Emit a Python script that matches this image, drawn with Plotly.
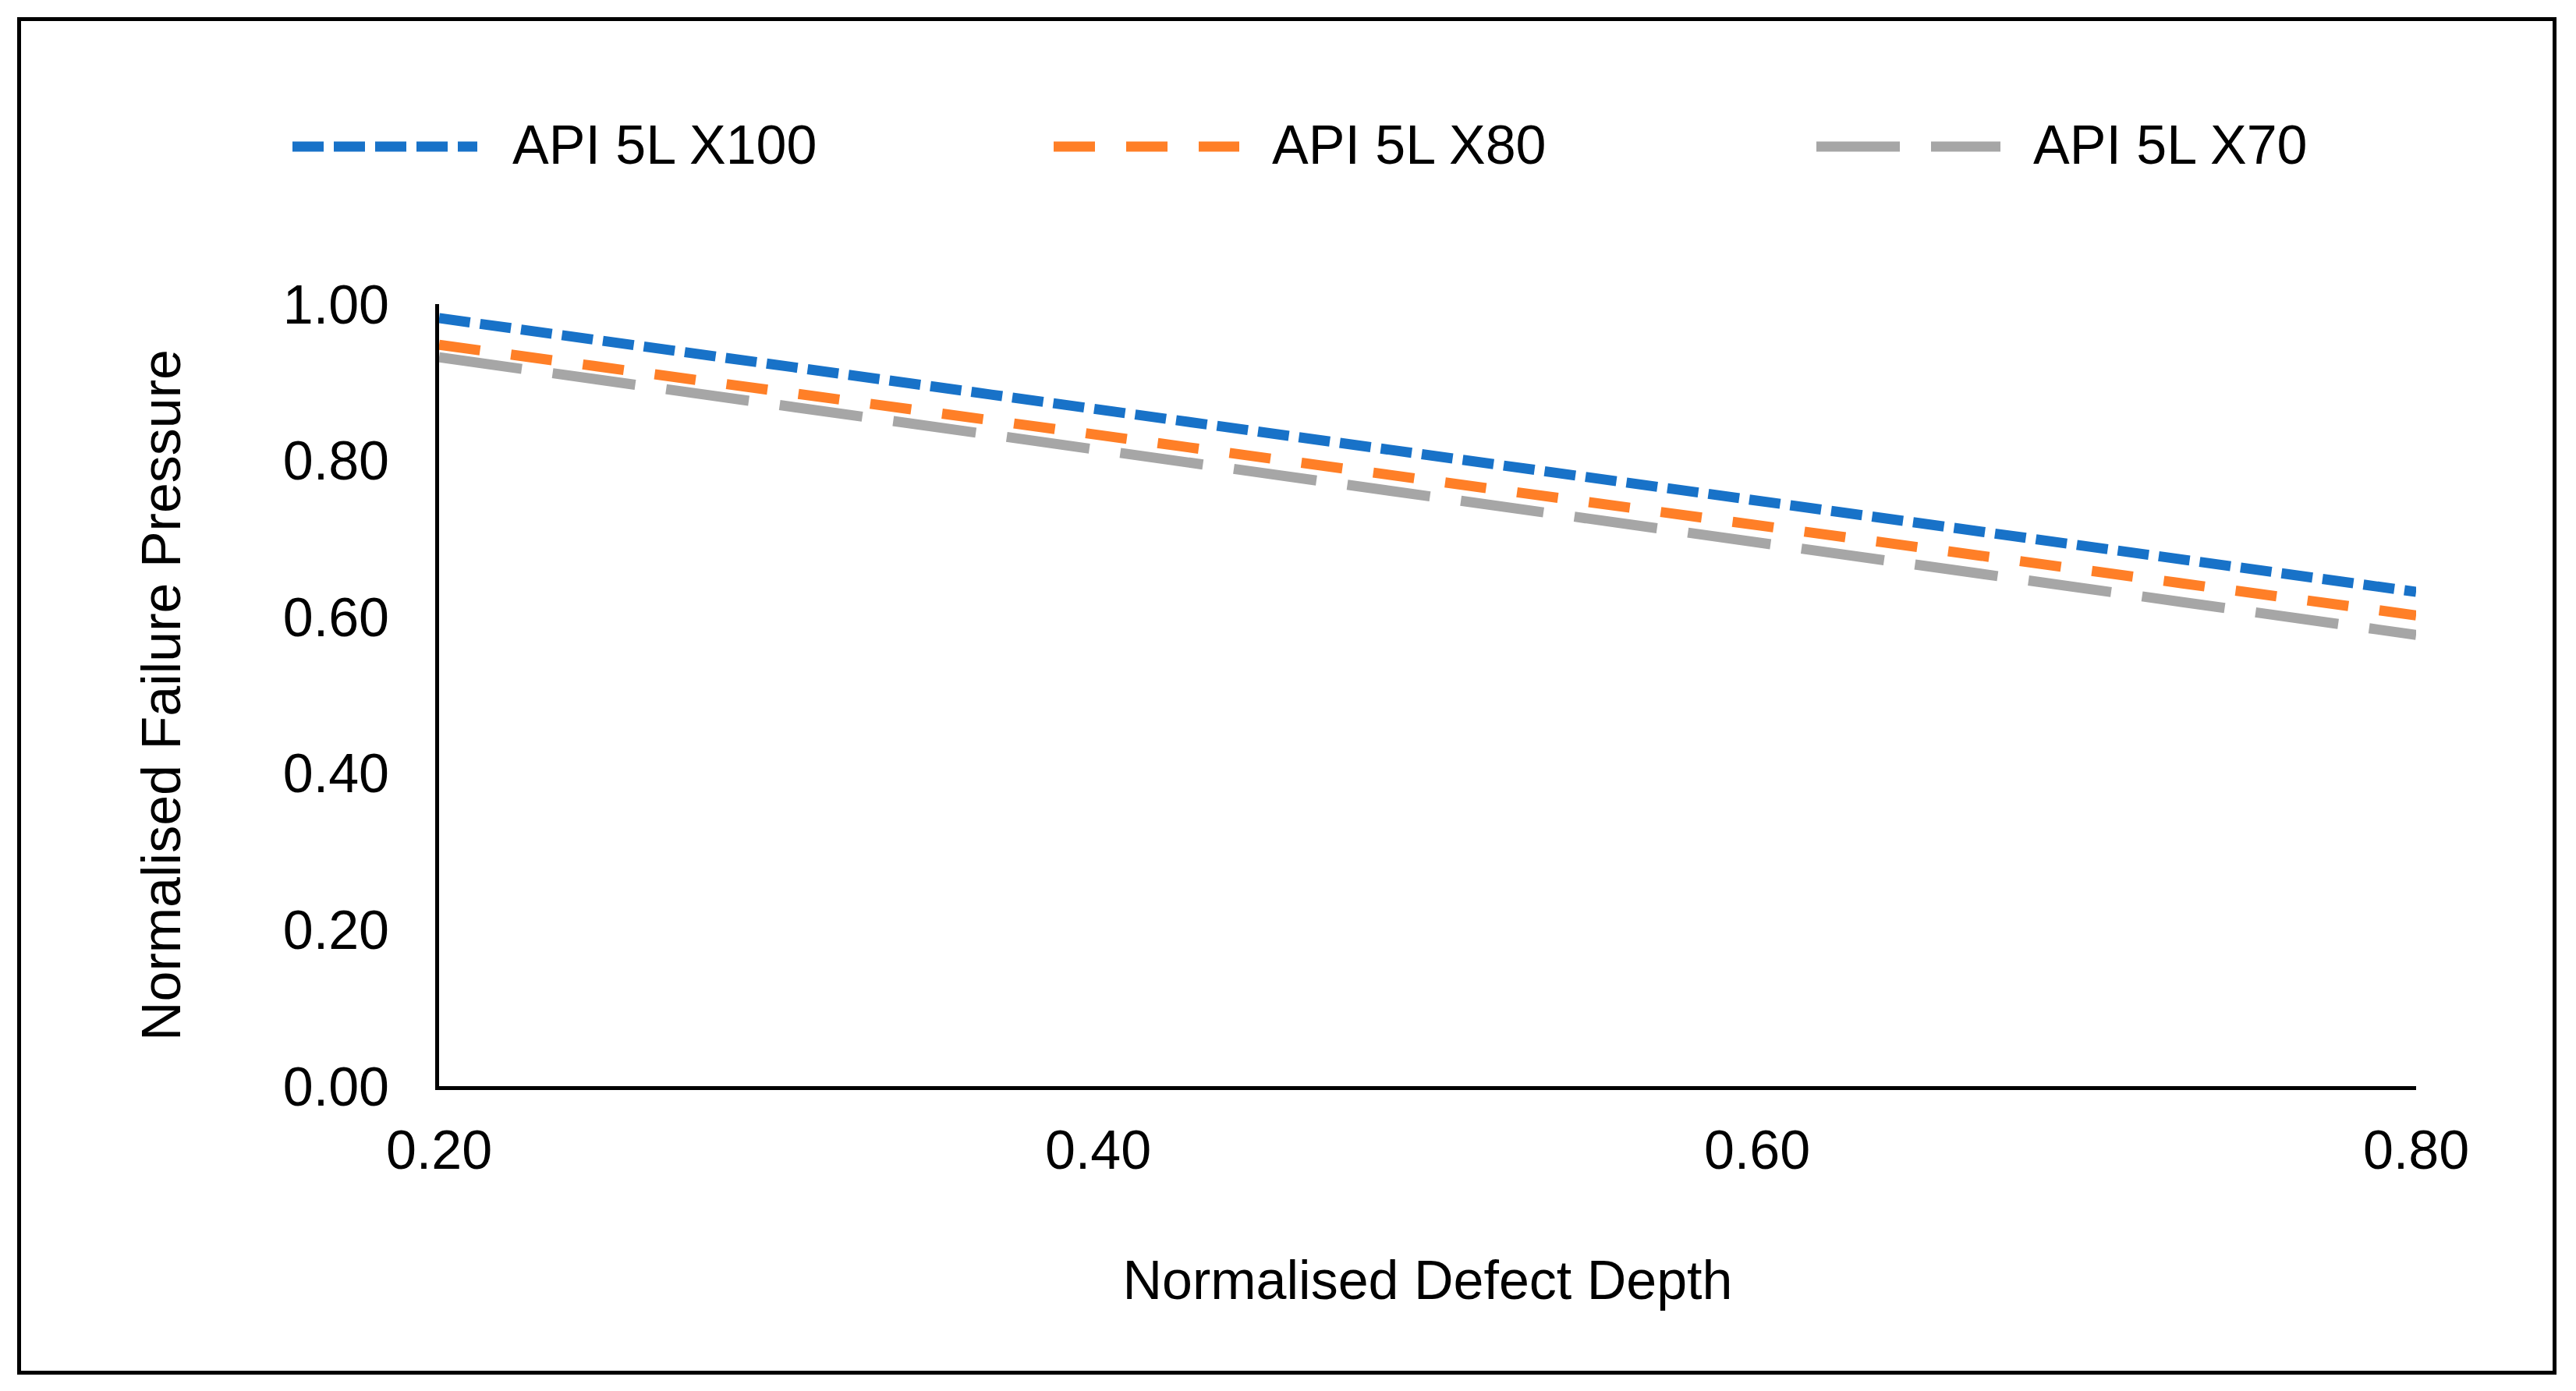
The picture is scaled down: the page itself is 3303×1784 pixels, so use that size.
import plotly.graph_objects as go

# ---- data ----
defect_depth = [0.2, 0.3, 0.4, 0.5, 0.6, 0.7, 0.8]
x100 = [0.982, 0.924, 0.865, 0.807, 0.749, 0.690, 0.632]
x80 = [0.948, 0.890, 0.833, 0.775, 0.717, 0.660, 0.602]
x70 = [0.932, 0.873, 0.814, 0.755, 0.695, 0.636, 0.577]
series_names = ["API 5L X100", "API 5L X80", "API 5L X70"]
x_ticks = [0.2, 0.4, 0.6, 0.8]
y_ticks = [0.0, 0.2, 0.4, 0.6, 0.8, 1.0]

colors = ["#1872C8", "#FF7F27", "#A6A6A6"]
dashes = ["40px,13px", "53px,40px", "107px,40px"]
FONT = "Arial, Liberation Sans, sans-serif"
OFF = 8  # default page body margin
W, H = 3303 - 2 * OFF, 1784 - 2 * OFF
L, T = 563 - OFF, 390 - OFF
R = W - (3098 - OFF)
B = H - (1393 - OFF)
LW = 13

fig = go.Figure()
for name, vals, col, dsh in zip(series_names, [x100, x80, x70], colors, dashes):
    fig.add_trace(go.Scatter(x=defect_depth, y=vals, mode="lines", name=name,
                             line=dict(color=col, width=LW, dash=dsh),
                             showlegend=False, cliponaxis=False))

pw, ph = W - L - R, H - T - B
def px2paper_x(px):
    return (px - OFF - L) / pw
def px2paper_y(py):
    return (H - B - (py - OFF)) / ph

shapes = []
annotations = []
# custom legend (long line samples like the original)
legend_items = [(375, 612, 655), (1351, 1589, 1629), (2329, 2565, 2605)]
for (x0, x1, xt), name, col, dsh in zip(legend_items, series_names, colors, dashes):
    shapes.append(dict(type="line", xref="paper", yref="paper",
                       x0=px2paper_x(x0), x1=px2paper_x(x1),
                       y0=px2paper_y(188), y1=px2paper_y(188),
                       line=dict(color=col, width=LW, dash=dsh)))
    annotations.append(dict(text=name, xref="paper", yref="paper",
                            x=px2paper_x(xt), y=px2paper_y(186),
                            xanchor="left", yanchor="middle", showarrow=False,
                            font=dict(family=FONT, size=70, color="black")))
# outer frame
shapes.append(dict(type="rect", xref="paper", yref="paper",
                   x0=px2paper_x(24.5), x1=px2paper_x(3275.5),
                   y0=px2paper_y(1760.5), y1=px2paper_y(24.5),
                   line=dict(color="black", width=5), fillcolor="rgba(0,0,0,0)",
                   layer="below"))

fig.update_layout(
    width=W, height=H,
    margin=dict(l=L, r=R, t=T, b=B, autoexpand=False),
    paper_bgcolor="white", plot_bgcolor="white",
    font=dict(family=FONT, size=70, color="black"),
    shapes=shapes, annotations=annotations,
    showlegend=False,
)
fig.update_xaxes(range=[0.2, 0.8], tickvals=x_ticks, tickformat=".2f",
                 showgrid=False, zeroline=False, showline=True,
                 linecolor="black", linewidth=5, ticks="",
                 ticklabelstandoff=17,
                 tickfont=dict(family=FONT, size=70, color="black"),
                 title=dict(text="Normalised Defect Depth", standoff=105,
                            font=dict(family=FONT, size=70, color="black")),
                 automargin=False)
fig.update_yaxes(range=[0, 1.0], tickvals=y_ticks, tickformat=".2f",
                 showgrid=False, zeroline=False, showline=True,
                 linecolor="black", linewidth=5, ticks="",
                 ticklabelstandoff=45,
                 tickfont=dict(family=FONT, size=70, color="black"),
                 title=dict(text="Normalised Failure Pressure", standoff=110,
                            font=dict(family=FONT, size=70, color="black")),
                 automargin=False)

fig.write_html("out.html")
